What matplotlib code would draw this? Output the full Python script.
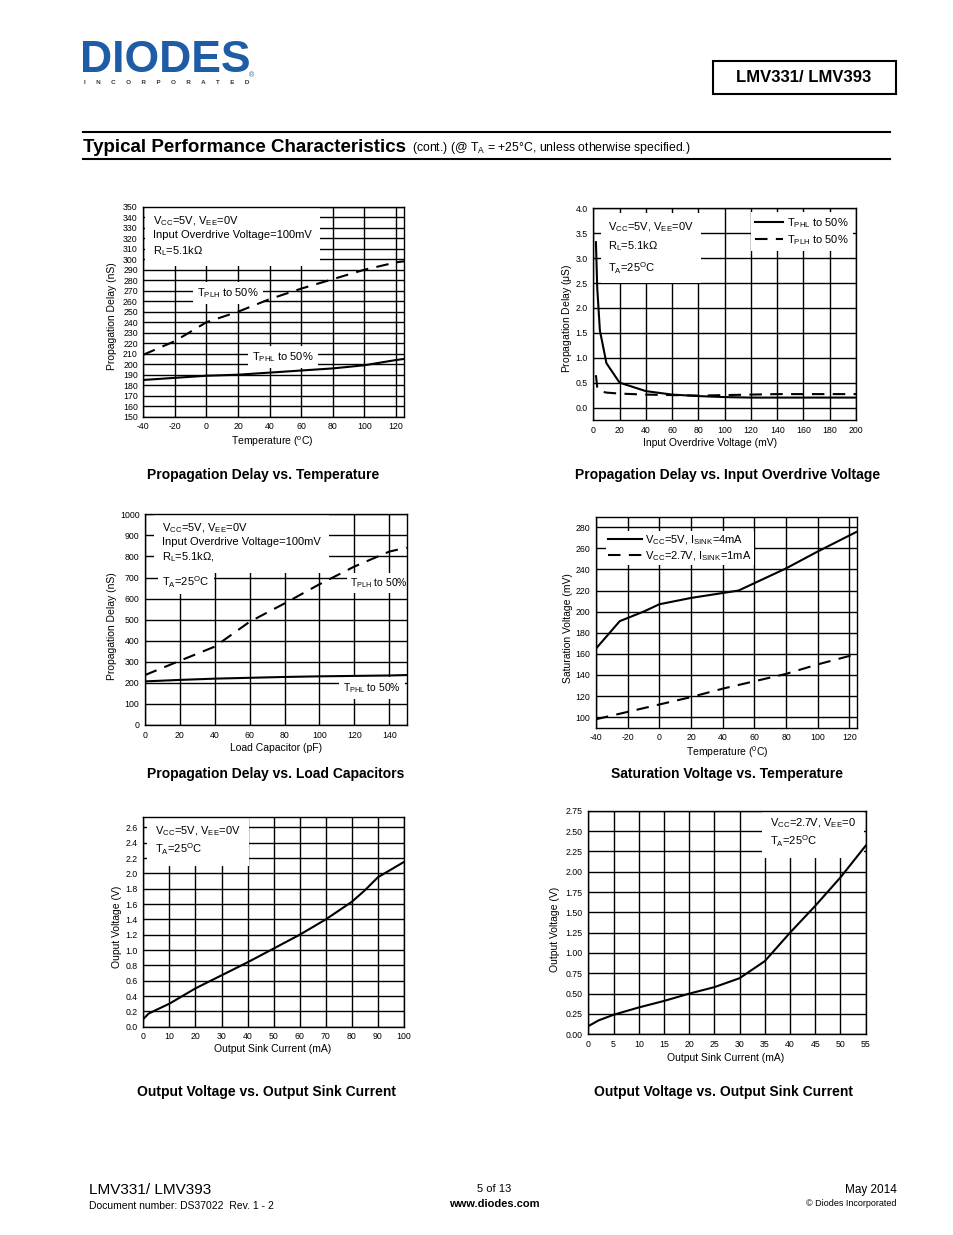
import numpy as np
import matplotlib
matplotlib.use('Agg')
import matplotlib.pyplot as plt
from matplotlib.patches import Rectangle
from matplotlib.lines import Line2D

plt.rcParams['font.family'] = ['Liberation Sans', 'DejaVu Sans']
plt.rcParams['mathtext.fontset'] = 'custom'
plt.rcParams['mathtext.rm'] = 'Liberation Sans'
plt.rcParams['mathtext.it'] = 'Liberation Sans'
plt.rcParams['axes.unicode_minus'] = False

W, H = 954, 1235

# chart 1: propagation delay vs temperature
temp1 = [-40, -20, 0, 20, 40, 60, 80, 100, 120, 125]
tplh1 = [209, 222, 240, 250, 262, 272, 281, 290, 297, 298]
tphl1 = [185, 187, 189, 190, 192, 194, 196, 199, 204, 205]

# chart 2: propagation delay vs input overdrive
vod_phl = [2, 3, 5, 10, 20, 40, 60, 80, 100, 120, 160, 200]
tphl2 = [3.32, 2.4, 1.55, 0.89, 0.5, 0.33, 0.26, 0.23, 0.21, 0.2, 0.2, 0.2]
vod_plh = [2, 3, 5, 10, 20, 40, 60, 80, 100, 140, 200]
tplh2 = [0.65, 0.4, 0.33, 0.3, 0.28, 0.26, 0.25, 0.24, 0.25, 0.27, 0.27]

# chart 3: propagation delay vs load capacitor
cload = [0, 20, 40, 60, 80, 100, 120, 140, 150]
tplh3 = [237, 305, 372, 490, 577, 668, 752, 823, 842]
tphl3 = [207, 214, 220, 224, 228, 231, 233, 235, 237]

# chart 4: saturation voltage vs temperature
temp4a = [-40, -25, -10, 0, 20, 50, 60, 80, 100, 125]
vsat5 = [165, 191, 200, 207, 213, 220, 227, 241, 257, 276]
temp4b = [-40, 0, 20, 40, 60, 80, 100, 120, 125]
vsat27 = [98, 112, 119, 127, 134, 141, 150, 158, 160]

# chart 5: output voltage vs sink current, 5V
isink5 = [0, 2, 5, 10, 20, 30, 40, 50, 60, 70, 80, 85, 90, 100]
vout5 = [0.1, 0.17, 0.22, 0.3, 0.5, 0.67, 0.84, 1.02, 1.2, 1.4, 1.63, 1.78, 1.95, 2.15]

# chart 6: output voltage vs sink current, 2.7V
isink27 = [0, 2, 5, 10, 15, 20, 25, 30, 35, 40, 45, 50, 55]
vout27 = [0.1, 0.17, 0.24, 0.33, 0.41, 0.5, 0.58, 0.69, 0.9, 1.25, 1.58, 1.93, 2.32]

fig = plt.figure(figsize=(W / 100, H / 100), dpi=100)


def fx(x):
    return x / W


def fy(y):
    return 1 - y / H


def make_ax(l, t, r, b, xlim, ylim, xticks, yticks, yfmt=None):
    ax = fig.add_axes([fx(l), fy(b), (r - l) / W, (b - t) / H])
    ax.set_xlim(*xlim)
    ax.set_ylim(*ylim)
    ax.set_xticks(xticks)
    ax.set_yticks(yticks)
    if yfmt:
        ax.set_yticklabels([yfmt % v for v in yticks])
    ax.grid(True, color='black', linewidth=1.0)
    ax.set_axisbelow(True)
    ax.tick_params(length=0, labelsize=6.3, pad=4)
    for s in ax.spines.values():
        s.set_linewidth(1.0)
    ax._box = (l, t, r, b)
    return ax


def at(ax, x, y):
    l, t, r, b = ax._box
    return ((x - l) / (r - l), (b - y) / (b - t))


def note(ax, x, y, s, size=8, va='top', ha='left', ls=1.35, pad=3):
    ax.text(*at(ax, x, y), s, transform=ax.transAxes, fontsize=size,
            va=va, ha=ha, linespacing=ls, zorder=1,
            bbox=dict(facecolor='white', edgecolor='none', pad=pad))


def ftext(x, y, s, **kw):
    fig.text(fx(x), fy(y), s, **kw)


VCC5 = r'V$_\mathrm{CC}$=5V, V$_\mathrm{EE}$=0V'
TA = r'T$_\mathrm{A}$=25$^\mathrm{O}$C'
RL = r'R$_\mathrm{L}$=5.1k$\Omega$'

# ---- chart 1
ax1 = make_ax(143.3, 206.7, 404, 416.7, (-40, 125), (150, 350),
              range(-40, 121, 20), range(150, 351, 10))
ax1.plot(temp1, tplh1, 'k', dashes=(6, 4), lw=1.5, zorder=2)
ax1.plot(temp1, tphl1, 'k', lw=1.5, zorder=2)
note(ax1, 153, 214, VCC5 + '\nInput Overdrive Voltage=100mV\n' + RL, pad=6)
note(ax1, 197, 293, 'T$_\\mathrm{PLH}$ to 50%', va='center')
note(ax1, 252, 357, 'T$_\\mathrm{PHL}$ to 50%', va='center')
ftext(272, 442, 'Temperature ($^\\mathrm{o}$C)', fontsize=7.5, ha='center', va='center')
ftext(112, 316, 'Propagation Delay (nS)', fontsize=7.5, ha='center', va='center', rotation=90)
ftext(263, 475, 'Propagation Delay vs. Temperature', fontsize=10, fontweight='bold', ha='center', va='center')

# ---- chart 2
ax2 = make_ax(593.3, 208.3, 856, 420, (0, 200), (-0.25, 4.0),
              range(0, 201, 20), np.arange(0, 4.01, 0.5), '%.1f')
ax2.plot(vod_phl, tphl2, 'k', lw=1.5, zorder=2, label='T$_\\mathrm{PHL}$ to 50%')
ax2.plot(vod_plh, tplh2, 'k', dashes=(6, 4), lw=1.5, zorder=2, label='T$_\\mathrm{PLH}$ to 50%')
note(ax2, 608, 220, VCC5 + '\n' + RL + '\n' + TA, ls=1.6, pad=5)
ax2.legend(loc='upper right', fontsize=8, handlelength=2.5, frameon=True,
           fancybox=False, edgecolor='none', framealpha=1, borderaxespad=0.3,
           labelspacing=0.3, handletextpad=0.3)
ftext(710, 443, 'Input Overdrive Voltage (mV)', fontsize=7.5, ha='center', va='center')
ftext(567, 318, 'Propagation Delay ($\\mu$S)', fontsize=7.5, ha='center', va='center', rotation=90)
ftext(728, 475, 'Propagation Delay vs. Input Overdrive Voltage', fontsize=10, fontweight='bold', ha='center', va='center')

# ---- chart 3
ax3 = make_ax(145, 514.3, 406.7, 725, (0, 150), (0, 1000),
              range(0, 141, 20), range(0, 1001, 100))
ax3.plot(cload, tplh3, 'k', dashes=(6, 4), lw=1.5, zorder=2)
ax3.plot(cload, tphl3, 'k', lw=1.5, zorder=2)
note(ax3, 162, 521, VCC5 + '\nInput Overdrive Voltage=100mV\n' + RL + ',', pad=6)
note(ax3, 162, 582, TA, va='center')
note(ax3, 350, 583, 'T$_\\mathrm{PLH}$ to 50%', size=7.5, va='center', pad=2)
note(ax3, 343, 688, 'T$_\\mathrm{PHL}$ to 50%', size=7.5, va='center')
ftext(276, 748, 'Load Capacitor (pF)', fontsize=7.5, ha='center', va='center')
ftext(112, 626, 'Propagation Delay (nS)', fontsize=7.5, ha='center', va='center', rotation=90)
ftext(276, 774, 'Propagation Delay vs. Load Capacitors', fontsize=10, fontweight='bold', ha='center', va='center')

# ---- chart 4
ax4 = make_ax(596, 516.7, 857.3, 727.7, (-40, 125), (90, 290),
              range(-40, 121, 20), range(100, 281, 20))
ax4.plot(temp4a, vsat5, 'k', lw=1.5, zorder=2, label='V$_\\mathrm{CC}$=5V, I$_\\mathrm{SINK}$=4mA')
ax4.plot(temp4b, vsat27, 'k', dashes=(6, 4), lw=1.5, zorder=2, label='V$_\\mathrm{CC}$=2.7V, I$_\\mathrm{SINK}$=1mA')
ax4.legend(loc='upper left', bbox_to_anchor=at(ax4, 606, 531), fontsize=8,
           handlelength=3, frameon=True, fancybox=False, edgecolor='none',
           framealpha=1, borderaxespad=0, labelspacing=0.2, handletextpad=0.3,
           borderpad=0.2)
ftext(727, 752, 'Temperature ($^\\mathrm{0}$C)', fontsize=7.5, ha='center', va='center')
ftext(568, 628, 'Saturation Voltage (mV)', fontsize=7.5, ha='center', va='center', rotation=90)
ftext(727, 774, 'Saturation Voltage vs. Temperature', fontsize=10, fontweight='bold', ha='center', va='center')

# ---- chart 5
ax5 = make_ax(143.3, 816.7, 404, 1026.7, (0, 100), (0, 2.74),
              range(0, 101, 10), np.arange(0, 2.61, 0.2), '%.1f')
ax5.plot(isink5, vout5, 'k', lw=1.5, zorder=2)
note(ax5, 155, 824, VCC5 + '\n' + TA, pad=6)
ftext(273, 1049, 'Output Sink Current (mA)', fontsize=7.5, ha='center', va='center')
ftext(117, 927, 'Ouput Voltage (V)', fontsize=7.5, ha='center', va='center', rotation=90)
ftext(267, 1092, 'Output Voltage vs. Output Sink Current', fontsize=10, fontweight='bold', ha='center', va='center')

# ---- chart 6
ax6 = make_ax(588.3, 810.7, 865.7, 1034.3, (0, 55), (0, 2.75),
              range(0, 56, 5), np.arange(0, 2.76, 0.25), '%.2f')
ax6.plot(isink27, vout27, 'k', lw=1.5, zorder=2)
note(ax6, 770, 816, r'V$_\mathrm{CC}$=2.7V, V$_\mathrm{EE}$=0' + '\n' + TA, pad=6)
ftext(726, 1058, 'Output Sink Current (mA)', fontsize=7.5, ha='center', va='center')
ftext(555, 929, 'Output Voltage (V)', fontsize=7.5, ha='center', va='center', rotation=90)
ftext(723, 1092, 'Output Voltage vs. Output Sink Current', fontsize=10, fontweight='bold', ha='center', va='center')

# ---- header
ftext(80, 61, 'DIODES', fontsize=32, fontweight='heavy', color='#1f5ca6',
      ha='left', va='center')
ftext(84, 83, 'I      N      C      O      R      P      O      R      A      T      E      D',
      fontsize=4.5, fontweight='bold', color='#333333', ha='left', va='center')
ftext(252, 76, '®', fontsize=5, color='#1f5ca6', ha='center', va='center')
fig.patches.append(Rectangle((fx(713), fy(94)), 183 / W, 33 / H, transform=fig.transFigure,
                             fill=False, edgecolor='black', lw=1.5))
ftext(804, 78, 'LMV331/ LMV393', fontsize=12, fontweight='bold', ha='center', va='center')
fig.lines.append(Line2D([fx(83), fx(890)], [fy(132), fy(132)], transform=fig.transFigure, color='black', lw=1.5))
fig.lines.append(Line2D([fx(83), fx(890)], [fy(159), fy(159)], transform=fig.transFigure, color='black', lw=1.5))
ftext(83, 147, 'Typical Performance Characteristics', fontsize=13.5, fontweight='bold', ha='left', va='center')
ftext(412, 148, '(cont.) (@ T$_\\mathrm{A}$ = +25°C, unless otherwise specified.)', fontsize=8.8, ha='left', va='center')

# ---- footer
ftext(89, 1190, 'LMV331/ LMV393', fontsize=11, ha='left', va='center')
ftext(89, 1206, 'Document number: DS37022  Rev. 1 - 2', fontsize=7.5, ha='left', va='center')
ftext(494, 1189, '5 of 13', fontsize=8, ha='center', va='center')
ftext(494, 1204, 'www.diodes.com', fontsize=8, fontweight='bold', ha='center', va='center')
ftext(897, 1190, 'May 2014', fontsize=8.5, ha='right', va='center')
ftext(897, 1204, '© Diodes Incorporated', fontsize=6.5, ha='right', va='center')

fig.savefig('out.png', dpi=100)
